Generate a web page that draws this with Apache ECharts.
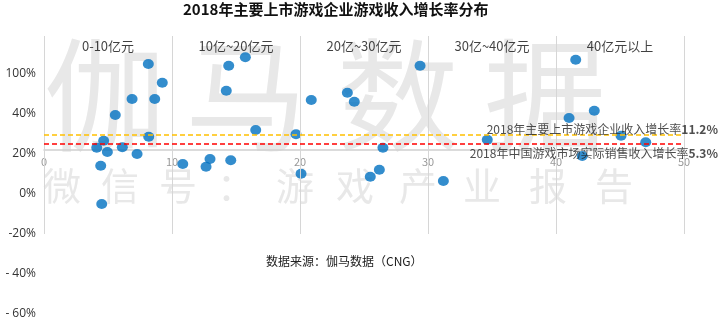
<!DOCTYPE html>
<html>
<head>
<meta charset="utf-8">
<style>html,body{margin:0;padding:0;background:#fff;}#c{width:722px;height:320px;}</style>
<script src="https://cdn.jsdelivr.net/npm/echarts@6/dist/echarts.min.js"></script>
</head>
<body>
<div id="c"></div>
<script>
// ---- data ----
const titleText = '2018年主要上市游戏企业游戏收入增长率分布';
const sourceText = '数据来源：伽马数据（CNG）';
const xTicks = [0, 10, 20, 30, 40, 50];
const bandCenters = [5, 15, 25, 35, 45];
const bandNames = ['0-10亿元', '10亿~20亿元', '20亿~30亿元', '30亿~40亿元', '40亿元以上'];
// y tick values (chart units) and the labels printed at them in the original
const yTickValues = [-60, -40, -20, 0, 20, 40, 60];
const yTickLabels = ['- 60%', '- 40%', '-20%', '0%', '20%', '40%', '100%'];
// revenue (亿元) of each company
const revenue = [8.15, 9.24, 6.88, 8.65, 5.57, 8.18, 4.66, 4.12, 4.95, 6.12, 7.27, 4.43, 4.51,
  15.73, 14.43, 14.24, 16.54, 19.69, 10.84, 12.97, 12.66, 14.59, 20.08,
  20.88, 23.7, 24.24, 29.38, 26.48, 26.2, 25.49, 31.2,
  34.63, 41.54, 42.99, 41.02, 45.08, 47.01, 42.05];
// growth position (chart units, as drawn)
const growth = [65, 55.65, 47.5, 47.5, 39.5, 28.65, 26.65, 23.15, 21, 23.35, 20, 14.15, -5,
  68.35, 64.15, 51.65, 32, 29.85, 15, 17.5, 13.65, 16.85, 10.15,
  47, 50.65, 46.15, 64.15, 23.15, 12.15, 8.65, 6.5,
  27.15, 67.15, 41.65, 38, 29.15, 25.85, 19];
const refNames = ['2018年主要上市游戏企业收入增长率', '2018年中国游戏市场实际销售收入增长率'];
const refRates = ['11.2%', '5.3%'];
const refY = [29.65, 25.35];
const refColors = ['#FFC000', '#FF0000'];
const baseLineY = 22;      // grey horizontal axis line
const yMin = -60, yMax = 79, vLineBottom = -20, bandTitleY = 74;
const watermarkBig = ['伽', '马', '数', '据'];
const watermarkSmall = ['微', '信', '号', '：', '游', '戏', '产', '业', '报', '告'];

// ---- chart ----
const chart = echarts.init(document.getElementById('c'));
const FONT = '"Noto Sans CJK SC", "Noto Sans", sans-serif';

const graphics = [];
const bigX = [105, 246, 398, 545];
watermarkBig.forEach((ch, i) => graphics.push({
  type: 'text', z: -10, silent: true, x: bigX[i], y: 95,
  style: { text: ch, fontSize: 122, fontFamily: FONT, fill: '#e8e8e8', align: 'center', verticalAlign: 'middle' }
}));
const smallX = [62, 120, 178, 236, 295, 355, 418, 482, 548, 614];
watermarkSmall.forEach((ch, i) => graphics.push({
  type: 'text', z: -10, silent: true, x: smallX[i], y: 186,
  style: { text: ch, fontSize: 38, fontFamily: FONT, fill: '#e8e8e8', align: 'center', verticalAlign: 'middle' }
}));

const yLabelMap = {};
yTickValues.forEach((v, i) => yLabelMap[v] = yTickLabels[i]);

chart.setOption({
  animation: false,
  backgroundColor: '#fff',
  textStyle: { fontFamily: FONT },
  graphic: graphics,
  title: [
    { text: titleText, left: 183, top: 2, padding: 0,
      textStyle: { fontSize: 15, fontWeight: 'bold', color: '#111', fontFamily: FONT } },
    { text: sourceText, left: 266, top: 255, padding: 0,
      textStyle: { fontSize: 12, fontWeight: 'normal', color: '#222', fontFamily: FONT } }
  ],
  grid: { left: 44, right: 38, top: 36, bottom: 6, containLabel: false, outerBoundsMode: 'none' },
  xAxis: {
    type: 'value', min: 0, max: 50, interval: 10, position: 'bottom', offset: -164,
    axisLine: { show: true, onZero: false, lineStyle: { color: '#cfcfcf', width: 1.5 } },
    axisTick: { show: false },
    splitLine: { show: false },
    axisLabel: { color: '#999', fontSize: 11, margin: 6, fontFamily: FONT }
  },
  yAxis: {
    type: 'value', min: yMin, max: yMax, interval: 20,
    axisLine: { show: false }, axisTick: { show: false }, splitLine: { show: false },
    axisLabel: { color: '#333', fontSize: 12, margin: 8, fontFamily: '"Open Sans", sans-serif',
      formatter: v => (yLabelMap[v] !== undefined ? yLabelMap[v] : '') }
  },
  series: [
    { // vertical band separators
      type: 'line', data: [], z: 1, silent: true,
      markLine: {
        silent: true, symbol: 'none', animation: false,
        label: { show: false },
        lineStyle: { color: '#d6d6d6', width: 1, type: 'solid' },
        data: xTicks.map(x => [{ coord: [x, vLineBottom] }, { coord: [x, yMax] }])
      }
    },
    { // reference lines
      type: 'line', data: [], z: 3, silent: true,
      markLine: {
        silent: true, symbol: 'none', animation: false,
        label: { show: false },
        data: refY.map((y, i) => ({ yAxis: y, lineStyle: { color: refColors[i], width: 1.5, type: [5, 3] } }))
      }
    },
    { // companies
      type: 'scatter', z: 4,
      symbol: 'circle', symbolSize: [11, 10],
      itemStyle: { color: '#0070C0' },
      data: revenue.map((r, i) => [r, growth[i]])
    },
    { // band titles
      type: 'scatter', z: 5, silent: true, symbolSize: 0,
      data: bandCenters.map((c, i) => [c, bandTitleY, bandNames[i]]),
      label: { show: true, position: 'inside', formatter: p => p.data[2],
        color: '#111', fontSize: 13, fontFamily: FONT }
    },
    { // reference line labels
      type: 'scatter', z: 5, silent: true, symbolSize: 0,
      data: refY.map((y, i) => [50, y, refNames[i], refRates[i]]),
      label: { show: true,
        position: [34, 0], align: 'right', verticalAlign: 'middle',
        formatter: p => '{a|' + p.data[2] + '}{b|' + p.data[3] + '}',
        rich: {
          a: { fontSize: 12, color: '#222', fontFamily: FONT },
          b: { fontSize: 12, color: '#222', fontWeight: 'bold', fontFamily: FONT }
        }
      },
      labelLayout: function (params) {
        return { dy: params.dataIndex === 0 ? -5 : 10 };
      }
    }
  ]
});
</script>
</body>
</html>
